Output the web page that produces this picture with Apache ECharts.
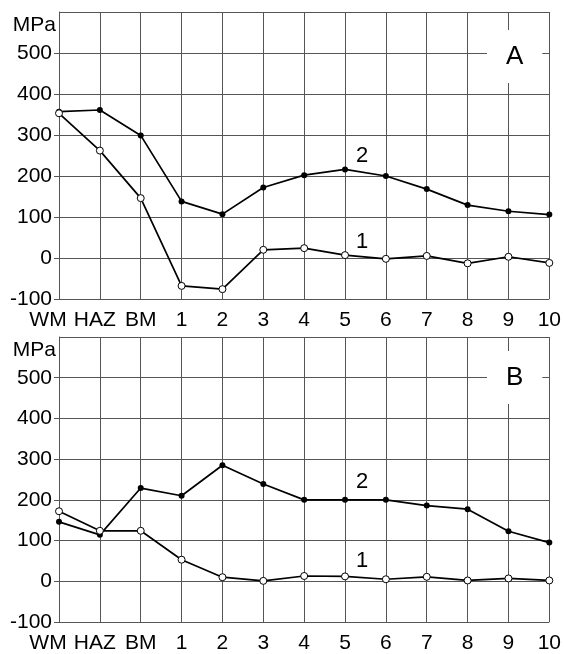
<!DOCTYPE html>
<html>
<head>
<meta charset="utf-8">
<script src="https://cdn.jsdelivr.net/npm/echarts@6/dist/echarts.min.js"></script>
<style>
html,body{margin:0;padding:0;background:#fff;}
#c{width:564px;height:654px;}
</style>
</head>
<body>
<div id="c"></div>
<script>
var categories = ['WM','HAZ','BM','1','2','3','4','5','6','7','8','9','10'];
var yTicks = [-100, 0, 100, 200, 300, 400, 500, 600];

var panelA_curve2 = [357, 361, 299, 138, 107, 172, 202, 216, 200, 168, 129, 114, 106];
var panelA_curve1 = [353, 262, 146, -68, -76, 20, 24, 7, -2, 5, -13, 3, -12];
var panelB_curve2 = [146, 114, 229, 210, 285, 239, 200, 200, 200, 186, 177, 123, 95];
var panelB_curve1 = [172, 124, 124, 53, 10, 1, 13, 12, 5, 11, 2, 7, 2];

var panelNames = ['A', 'B'];
var curveNames = ['1', '2'];
var curveLabelPosA = [38, 249];
var curveLabelPosB = [49, 244];

var FONT = 'Liberation Sans, Arial, sans-serif';
var GRIDC = '#555';
var FS = 21;

var labelShift = {'WM': 22, 'HAZ': 10};

function xAxisFor(gi) {
  return {
    type: 'category', gridIndex: gi, data: categories, boundaryGap: false,
    axisLine: {show: true, lineStyle: {color: GRIDC, width: 1}},
    axisTick: {show: false},
    splitLine: {show: true, lineStyle: {color: GRIDC, width: 1}},
    axisLabel: {
      interval: 0, margin: 11, color: '#000', fontFamily: FONT, fontSize: FS,
      formatter: function (v) {
        if (labelShift[v]) return '{s' + labelShift[v] + '|' + v + '}';
        return v;
      },
      rich: {
        s22: {padding: [0, 22, 0, 0], fontSize: FS, fontFamily: FONT, color: '#000'},
        s10: {padding: [0, 10, 0, 0], fontSize: FS, fontFamily: FONT, color: '#000'}
      }
    }
  };
}
function yAxisFor(gi) {
  return {
    type: 'value', gridIndex: gi,
    min: yTicks[0], max: yTicks[yTicks.length - 1], interval: 100,
    axisLine: {show: true, lineStyle: {color: GRIDC, width: 1}},
    axisTick: {show: true, length: 5, lineStyle: {color: GRIDC, width: 1}},
    splitLine: {show: true, lineStyle: {color: GRIDC, width: 1}},
    axisLabel: {
      margin: 7, color: '#000', fontFamily: FONT, fontSize: FS,
      showMaxLabel: false,
      formatter: function (v) { return v === 600 ? '' : String(v); }
    }
  };
}

function curveSeries(gi, data, filled, name, labelVal) {
  return {
    type: 'line', xAxisIndex: gi, yAxisIndex: gi, data: data,
    symbol: 'circle', symbolSize: filled ? 6 : 7,
    lineStyle: {color: '#000', width: 1.7},
    itemStyle: {color: filled ? '#000' : '#fff', borderColor: '#000', borderWidth: filled ? 0 : 1},
    z: filled ? 3 : 4,
    animation: false,
    markPoint: {
      symbol: 'circle', symbolSize: 1,
      itemStyle: {color: 'rgba(0,0,0,0)'},
      label: {show: true, position: 'inside', offset: [17, 0], color: '#000', fontFamily: FONT, fontSize: 22,
        formatter: function () { return name; }},
      data: [{coord: ['5', labelVal]}],
      animation: false
    }
  };
}

var chart = echarts.init(document.getElementById('c'), null, {renderer: 'canvas'});
chart.setOption({
  backgroundColor: '#fff',
  animation: false,
  title: [
    {text: panelNames[0], left: 487, top: 30, backgroundColor: '#fff', padding: [14, 19, 13, 19],
      textStyle: {fontFamily: FONT, fontSize: 26, fontWeight: 'normal', color: '#000', lineHeight: 26}},
    {text: panelNames[1], left: 487, top: 351, backgroundColor: '#fff', padding: [14, 19, 13, 19],
      textStyle: {fontFamily: FONT, fontSize: 26, fontWeight: 'normal', color: '#000', lineHeight: 26}},
    {text: 'MPa', right: 508, top: 14, padding: 0,
      textStyle: {fontFamily: FONT, fontSize: FS, fontWeight: 'normal', color: '#000', lineHeight: 22}},
    {text: 'MPa', right: 508, top: 339, padding: 0,
      textStyle: {fontFamily: FONT, fontSize: FS, fontWeight: 'normal', color: '#000', lineHeight: 22}}
  ],
  grid: [
    {left: 59, right: 11, top: 12, height: 287},
    {left: 59, right: 11, top: 337, height: 287}
  ],
  xAxis: [xAxisFor(0), xAxisFor(1)],
  yAxis: [yAxisFor(0), yAxisFor(1)],
  series: [
    curveSeries(0, panelA_curve2, true, curveNames[1], curveLabelPosA[1]),
    curveSeries(0, panelA_curve1, false, curveNames[0], curveLabelPosA[0]),
    curveSeries(1, panelB_curve2, true, curveNames[1], curveLabelPosB[1]),
    curveSeries(1, panelB_curve1, false, curveNames[0], curveLabelPosB[0])
  ]
});
</script>
</body>
</html>
